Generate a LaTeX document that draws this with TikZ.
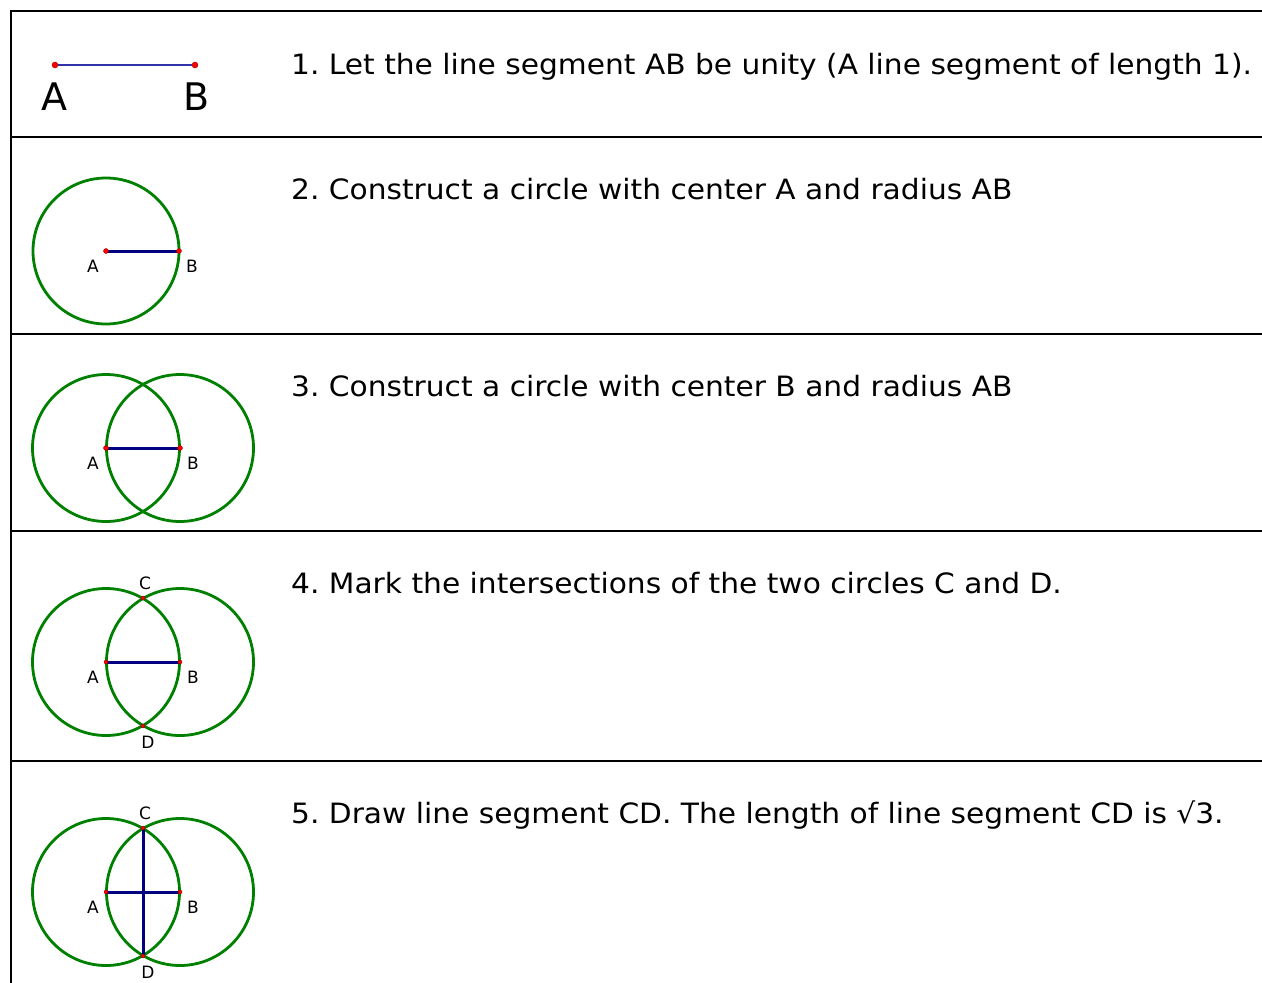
\documentclass[tikz,border=0pt]{standalone}
\usepackage{fontspec}
\setmainfont{DejaVu Sans}
\newfontfamily\stepfont[FakeStretch=1.06]{DejaVu Sans}
\frenchspacing
\begin{document}
\begin{tikzpicture}[x=1pt,y=-1pt,
  rule/.style={line width=2.2pt,black},
  circ/.style={draw=green!50!black,line width=2.8pt},
  seg/.style={draw={rgb,255:red,0;green,0;blue,128},line width=3pt},
  thinseg/.style={draw={rgb,255:red,50;green,50;blue,170},line width=1.6pt},
  pt/.style={circle,fill=red,draw=red!60!black,line width=0.4pt,inner sep=0pt,minimum size=5pt},
  biglbl/.style={font=\fontsize{38}{40}\selectfont,inner sep=0pt},
  lbl/.style={font=\fontsize{17}{19}\selectfont,inner sep=0pt},
  step text/.style={anchor=base west,inner sep=0pt,font=\stepfont\fontsize{28}{30}\selectfont\frenchspacing}]
\useasboundingbox (0,0) rectangle (1262,983);
% table rules
\draw[rule] (1262,11) -- (11,11) -- (11,983);
\foreach \yy in {137,334,531,761} \draw[rule] (11,\yy) -- (1262,\yy);

% Row 1
\node[pt,minimum size=6pt] (A1) at (55,65) {};
\node[pt,minimum size=6pt] (B1) at (195,65) {};
\draw[thinseg] (A1) -- (B1);
\node[biglbl] (lA1) at (54,97) {A};
\node[biglbl] (lB1) at (197,97) {B};
\node[step text] (t1) at (291,74) {1. Let the line segment AB be unity (A line segment of length 1).};

% Row 2
\coordinate (A2) at (106,251);
\coordinate (B2) at (179,251);
\draw[circ] (A2) circle (73);
\draw[seg] (A2) -- (B2);
\node[pt] at (A2) {};
\node[pt] at (B2) {};
\node[lbl] (lA2) at (93,266) {A};
\node[lbl] (lB2) at (192,266) {B};
\node[step text] (t2) at (291,199) {2. Construct a circle with center A and radius AB};

% Row 3
\coordinate (A3) at (106,448);
\coordinate (B3) at (180,448);
\draw[circ] (A3) circle (73.5);
\draw[circ] (B3) circle (73.5);
\draw[seg] (A3) -- (B3);
\node[pt] at (A3) {};
\node[pt] at (B3) {};
\node[lbl] (lA3) at (93,463) {A};
\node[lbl] (lB3) at (193,463) {B};
\node[step text] (t3) at (291,396) {3. Construct a circle with center B and radius AB};

% Row 4
\coordinate (A4) at (106,662);
\coordinate (B4) at (180,662);
\coordinate (C4) at (143,598);
\coordinate (D4) at (143,726);
\draw[circ] (A4) circle (73.5);
\draw[circ] (B4) circle (73.5);
\draw[seg] (A4) -- (B4);
\foreach \p in {A4,B4,C4,D4} \node[pt,minimum size=4pt] at (\p) {};
\node[lbl] (lA4) at (93,677) {A};
\node[lbl] (lB4) at (193,677) {B};
\node[lbl] (lC4) at (145,583) {C};
\node[lbl] (lD4) at (148,742) {D};
\node[step text] (t4) at (291,593) {4. Mark the intersections of the two circles C and D.};

% Row 5
\coordinate (A5) at (106,892);
\coordinate (B5) at (180,892);
\coordinate (C5) at (143,828);
\coordinate (D5) at (143,956);
\draw[circ] (A5) circle (73.5);
\draw[circ] (B5) circle (73.5);
\draw[seg] (A5) -- (B5);
\draw[seg] (C5) -- (D5);
\foreach \p in {A5,B5,C5,D5} \node[pt,minimum size=4pt] at (\p) {};
\node[lbl] (lA5) at (93,907) {A};
\node[lbl] (lB5) at (193,907) {B};
\node[lbl] (lC5) at (145,813) {C};
\node[lbl] (lD5) at (148,972) {D};
\node[step text] (t5) at (291,823) {5. Draw line segment CD. The length of line segment CD is √3.};
\end{tikzpicture}
\end{document}
